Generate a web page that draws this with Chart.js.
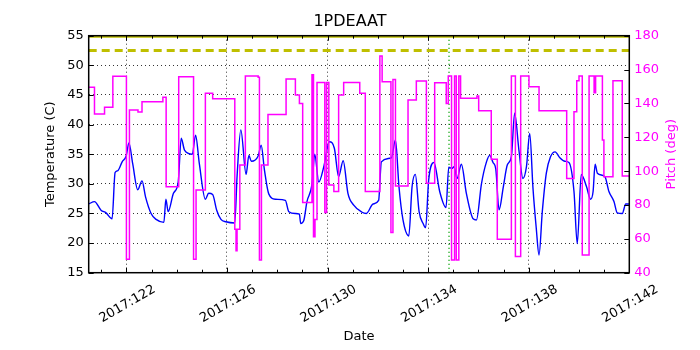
<!DOCTYPE html>
<html>
<head>
<meta charset="utf-8">
<title>1PDEAAT</title>
<script src="https://cdn.jsdelivr.net/npm/chart.js@4.4.0/dist/chart.umd.min.js"></script>
<style>
  body { margin: 0; background: #fff; }
</style>
</head>
<body>
<canvas id="grafico" width="700" height="350"></canvas>
<script>
// Dados (dia do ano 2017)

const diasTemp = [
    120.5, 120.73, 120.99, 121.19, 121.43, 121.55, 121.65, 121.83, 121.99, 122.1,
    122.25, 122.45, 122.62, 122.76, 122.98, 123.18, 123.49, 123.57, 123.66, 123.87,
    124.06, 124.18, 124.31, 124.62, 124.75, 124.9, 125.14, 125.27, 125.43, 125.59,
    125.76, 125.96, 126.31, 126.4, 126.55, 126.76, 126.87, 126.97, 127.24, 127.36,
    127.49, 127.66, 127.93, 128.32, 128.46, 128.72, 128.88, 128.93, 129.05, 129.18,
    129.38, 129.49, 129.65, 129.85, 130.07, 130.27, 130.44, 130.62, 130.81, 131.04,
    131.37, 131.54, 131.81, 132.03, 132.14, 132.54, 132.7, 132.84, 133.0, 133.23,
    133.36, 133.49, 133.64, 133.8, 133.9, 134.02, 134.23, 134.46, 134.71, 134.82,
    134.95, 135.03, 135.15, 135.32, 135.52, 135.79, 135.92, 136.12, 136.32, 136.45,
    136.58, 136.69, 136.82, 136.99, 137.15, 137.31, 137.44, 137.61, 137.77, 137.91,
    138.04, 138.17, 138.3, 138.41, 138.54, 138.7, 138.87, 139.05, 139.24, 139.44,
    139.6, 139.8, 139.93, 140.09, 140.3, 140.46, 140.56, 140.64, 140.73, 141.03,
    141.19, 141.39, 141.52, 141.72, 141.86, 142.0
]
const temperatura = [
    26.6, 27.0, 25.55, 25.1, 24.1, 31.9, 32.2, 33.7, 34.7, 36.9,
    33.4, 29.0, 30.5, 27.8, 25.0, 24.0, 23.5, 27.4, 25.3, 28.4,
    30.3, 37.7, 35.7, 35.0, 38.2, 33.4, 27.4, 28.4, 28.2, 25.55,
    24.0, 23.6, 23.4, 31.2, 39.1, 31.6, 34.8, 33.8, 34.7, 36.5,
    32.3, 28.3, 27.4, 27.2, 25.3, 25.0, 24.9, 23.3, 23.75, 27.0,
    29.9, 35.0, 30.3, 32.9, 37.1, 36.0, 31.2, 33.9, 28.4, 26.4,
    25.2, 25.0, 26.6, 27.2, 33.7, 34.4, 37.4, 29.5, 23.9, 21.2,
    29.5, 31.6, 25.3, 23.3, 22.6, 30.6, 33.6, 28.7, 26.0, 32.8,
    32.6, 32.9, 30.9, 33.3, 28.4, 24.1, 23.9, 30.0, 33.7, 34.8,
    33.6, 32.5, 25.6, 29.5, 33.2, 34.6, 41.9, 35.7, 30.9, 32.9,
    38.5, 29.2, 22.5, 18.0, 25.3, 31.8, 34.6, 35.4, 34.4, 33.8,
    33.6, 28.7, 19.9, 31.6, 29.5, 27.4, 28.7, 33.3, 31.8, 31.2,
    28.7, 27.0, 25.1, 25.0, 26.6, 26.6
]

// pitch em degraus: valor vale a partir do dia indicado
const diasPitch = [
    120.5, 120.73, 121.13, 121.46, 122.0, 122.12, 122.46, 122.62, 123.45, 123.58,
    124.08, 124.67, 124.77, 125.14, 125.43, 126.31, 126.36, 126.4, 126.51, 126.73,
    127.24, 127.29, 127.37, 127.63, 128.35, 128.72, 128.88, 129.01, 129.38, 129.44,
    129.5, 129.58, 129.89, 129.96, 130.05, 130.25, 130.44, 130.64, 131.28, 131.5,
    132.08, 132.17, 132.52, 132.6, 132.7, 133.2, 133.53, 133.93, 134.26, 134.72,
    134.8, 134.93, 135.05, 135.12, 135.22, 135.29, 135.94, 136.01, 136.51, 136.75,
    137.31, 137.47, 137.68, 138.01, 138.41, 139.51, 139.8, 139.91, 140.0, 140.13,
    140.4, 140.6, 140.66, 140.93, 140.99, 141.35, 141.72, 142.0
]
const pitch = [
    149.5, 133.7, 137.7, 156.0, 47.9, 136.1, 134.9, 141.0, 143.6, 90.8,
    155.8, 47.9, 88.9, 146.0, 142.8, 65.6, 53.0, 65.6, 103.6, 156.2,
    155.4, 47.5, 103.6, 133.5, 154.4, 145.0, 140.0, 81.4, 157.0, 61.3,
    71.5, 152.4, 75.5, 152.4, 91.8, 87.9, 145.0, 152.4, 146.0, 87.9,
    168.0, 152.8, 63.7, 154.2, 91.2, 142.0, 153.2, 92.8, 152.2, 140.0,
    156.2, 47.5, 156.2, 47.5, 156.2, 143.0, 144.4, 135.7, 107.0, 59.7,
    156.2, 49.5, 156.2, 149.9, 135.7, 95.7, 135.1, 153.4, 156.2, 50.5,
    156.2, 146.3, 156.2, 118.4, 96.7, 153.4, 97.1, 97.1
]

const limiteAmarelo = 52.5
const limiteTopo = 55
const diaVerde = 134.83
const ticksDias = [122, 126, 130, 134, 138, 142]
const ticksTemp = [15, 20, 25, 30, 35, 40, 45, 50, 55]
const ticksPitch = [40, 60, 80, 100, 120, 140, 160, 180]

const fonte = 'DejaVu Sans'

function pontos(xs, ys){
    const lista = []
    for(let i = 0; i < xs.length; i++){
        lista.push({ x: xs[i], y: ys[i] })
    }
    return lista
}

function linhaHorizontal(valor){
    return [{ x: 120.5, y: valor }, { x: 142, y: valor }]
}

// moldura preta + ticks internos + titulo do eixo da direita
const moldura = {
    id: 'moldura',
    afterDraw(chart){
        const ctx = chart.ctx
        const area = chart.chartArea
        const sx = chart.scales.x
        const st = chart.scales.yTemp
        const sp = chart.scales.yPitch

        ctx.save()
        ctx.strokeStyle = '#000'
        ctx.lineWidth = 1

        ctx.beginPath()
        for(let d = 121; d <= 142; d++){
            const px = Math.round(sx.getPixelForValue(d)) + 0.5
            const tam = ticksDias.includes(d) ? 5 : 3
            ctx.moveTo(px, area.bottom)
            ctx.lineTo(px, area.bottom - tam)
            ctx.moveTo(px, area.top)
            ctx.lineTo(px, area.top + tam)
        }
        for(const t of ticksTemp){
            const py = Math.round(st.getPixelForValue(t)) + 0.5
            ctx.moveTo(area.left, py)
            ctx.lineTo(area.left + 5, py)
        }
        for(const p of ticksPitch){
            const py = Math.round(sp.getPixelForValue(p)) + 0.5
            ctx.moveTo(area.right, py)
            ctx.lineTo(area.right - 5, py)
        }
        ctx.stroke()

        ctx.lineWidth = 1.5
        ctx.strokeRect(area.left, area.top, area.right - area.left, area.bottom - area.top)

        // "Pitch (deg)" lido de baixo pra cima, como no original
        ctx.translate(672, (area.top + area.bottom) / 2)
        ctx.rotate(-Math.PI / 2)
        ctx.fillStyle = '#ff00ff'
        ctx.font = '13px "' + fonte + '"'
        ctx.textAlign = 'center'
        ctx.textBaseline = 'middle'
        ctx.fillText('Pitch (deg)', 0, 0)
        ctx.restore()
    }
}

const ctx = document.getElementById('grafico')

new Chart(ctx, {
    type: 'line',
    data: {
        datasets: [
            {
                label: 'Pitch',
                data: pontos(diasPitch, pitch),
                yAxisID: 'yPitch',
                borderColor: '#ff00ff',
                borderWidth: 1.5,
                stepped: 'before',
                pointRadius: 0,
                fill: false
            },
            {
                label: '1PDEAAT',
                data: pontos(diasTemp, temperatura),
                yAxisID: 'yTemp',
                borderColor: '#0000ff',
                borderWidth: 1.4,
                cubicInterpolationMode: 'monotone',
                pointRadius: 0,
                fill: false
            },
            {
                label: 'limite',
                data: linhaHorizontal(limiteAmarelo),
                yAxisID: 'yTemp',
                borderColor: '#bfbf00',
                borderWidth: 3,
                borderDash: [8, 5],
                pointRadius: 0
            },
            {
                label: 'topo',
                data: linhaHorizontal(limiteTopo),
                yAxisID: 'yTemp',
                borderColor: '#bfbf00',
                borderWidth: 4,
                clip: 0,
                pointRadius: 0
            },
            {
                label: 'marca',
                data: [{ x: diaVerde, y: 15 }, { x: diaVerde, y: 55 }],
                yAxisID: 'yTemp',
                borderColor: '#00a000',
                borderWidth: 1.5,
                borderDash: [1, 3],
                pointRadius: 0
            }
        ]
    },
    options: {
        responsive: false,
        animation: false,
        devicePixelRatio: 1,
        layout: { padding: 0 },
        plugins: {
            legend: { display: false },
            tooltip: { enabled: false },
            title: {
                display: true,
                text: '1PDEAAT',
                color: '#000',
                font: { family: fonte, size: 16, weight: 'normal' },
                padding: { top: 12, bottom: 4.5 }
            }
        },
        scales: {
            x: {
                type: 'linear',
                min: 120.5,
                max: 142,
                afterBuildTicks: function(scale){
                    scale.ticks = ticksDias.map(v => ({ value: v }))
                },
                afterFit: function(scale){
                    scale.height = 77.3
                },
                ticks: {
                    autoSkip: false,
                    minRotation: 30,
                    maxRotation: 30,
                    padding: 9,
                    labelOffset: 28,
                    color: '#000',
                    font: { family: fonte, size: 13 },
                    callback: v => '2017:' + v
                },
                grid: { color: '#000', lineWidth: 0.8, drawTicks: false },
                border: { display: false, dash: [1, 3] },
                title: {
                    display: true,
                    text: 'Date',
                    color: '#000',
                    font: { family: fonte, size: 13 },
                    padding: { top: 0, bottom: 6 }
                }
            },
            yTemp: {
                type: 'linear',
                position: 'left',
                min: 15,
                max: 55,
                afterBuildTicks: function(scale){
                    scale.ticks = ticksTemp.map(v => ({ value: v }))
                },
                afterFit: function(scale){
                    scale.width = 88.7
                },
                ticks: {
                    padding: 5,
                    color: '#000',
                    font: { family: fonte, size: 13 }
                },
                grid: { color: '#000', lineWidth: 0.8, drawTicks: false },
                border: { display: false, dash: [1, 3] },
                title: {
                    display: true,
                    text: 'Temperature (C)',
                    color: '#000',
                    font: { family: fonte, size: 13 },
                    padding: { top: 43, bottom: 0 }
                }
            },
            yPitch: {
                type: 'linear',
                position: 'right',
                min: 40,
                max: 180,
                afterBuildTicks: function(scale){
                    scale.ticks = ticksPitch.map(v => ({ value: v }))
                },
                afterFit: function(scale){
                    scale.width = 70.7
                },
                ticks: {
                    padding: 5,
                    color: '#ff00ff',
                    font: { family: fonte, size: 13 }
                },
                grid: { display: false, drawTicks: false },
                border: { display: false }
            }
        }
    },
    plugins: [moldura]
})
</script>
</body>
</html>
